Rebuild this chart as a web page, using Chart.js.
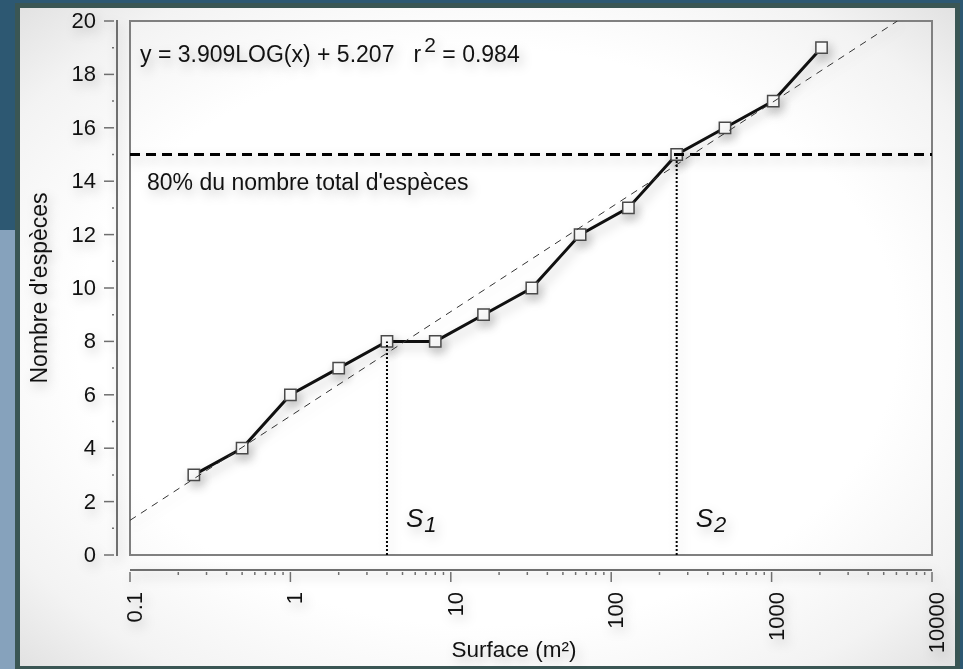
<!DOCTYPE html>
<html>
<head>
<meta charset="utf-8">
<script src="https://cdn.jsdelivr.net/npm/chart.js@4.4.1/dist/chart.umd.min.js"></script>
<style>
  html, body { margin: 0; padding: 0; }
  body { width: 963px; height: 669px; overflow: hidden; position: relative; background: #2d5872; }
  .bande { position: absolute; left: 0; top: 230px; width: 16px; height: 439px; background: #86a2bc; }
  .cadre {
    position: absolute; left: 15px; top: 3px; width: 945px; height: 666px; box-sizing: border-box;
    border: 5px solid #3a5654; border-bottom-width: 3px;
    background: radial-gradient(ellipse at 50% 50%, #ffffff 62%, #f3f3f3 85%, #e2e2e2 100%);
  }
  #courbe { position: absolute; left: 0; top: 0; }
</style>
</head>
<body>
<div class="bande"></div>
<div class="cadre"></div>
<canvas id="courbe" width="963" height="669"></canvas>
<script>
// relevés : surface échantillonnée (m²) et nombre d'espèces
const surfaces = [0.25, 0.5, 1, 2, 4, 8, 16, 32, 64, 128, 256, 512, 1024, 2048]
const especes = [3, 4, 6, 7, 8, 8, 9, 10, 12, 13, 15, 16, 17, 19]

// ajustement y = a LOG(x) + b
const pente = 3.909
const origine = 5.207
const r2 = 0.984

const seuil80 = 15
const s1 = { x: 4, y: 8 }
const s2 = { x: 256, y: 15 }

const xTicks = [0.1, 1, 10, 100, 1000, 10000]
const xTickLabels = ['0.1', '1', '10', '100', '1000', '10000']
const yTicks = [0, 2, 4, 6, 8, 10, 12, 14, 16, 18, 20]

const xMin = 0.1
const xMax = 10000
const yMax = 20

const FONT = '"Liberation Sans", Arial, Helvetica, sans-serif'

// droite d'ajustement, coupée au haut du graphe
const ajustement = [
  { x: xMin, y: pente * Math.log10(xMin) + origine },
  { x: Math.pow(10, (yMax - origine) / pente), y: yMax }
]

function setShadow (ctx) {
  ctx.shadowColor = 'rgba(0,0,0,0.26)'
  ctx.shadowBlur = 12
  ctx.shadowOffsetX = 3
  ctx.shadowOffsetY = 5
}

const axesPlugin = {
  id: 'axesMaison',
  beforeDatasetsDraw (chart) {
    const { ctx, chartArea: a } = chart
    ctx.save()
    ctx.strokeStyle = '#808080'
    ctx.lineWidth = 2
    ctx.strokeRect(a.left, a.top, a.right - a.left, a.bottom - a.top)
    ctx.restore()
    ctx.save()
    setShadow(ctx)
  },
  afterDatasetsDraw (chart) {
    chart.ctx.restore()
  },
  afterDraw (chart) {
    const { ctx, chartArea: a } = chart
    const xs = chart.scales.x
    const ys = chart.scales.y
    ctx.save()
    setShadow(ctx)

    // axe des ordonnées, décalé à gauche du cadre
    const yAxeX = a.left - 13
    ctx.strokeStyle = '#6f6f6f'
    ctx.lineWidth = 2
    ctx.beginPath()
    ctx.moveTo(yAxeX, ys.getPixelForValue(yMax) - 1)
    ctx.lineTo(yAxeX, ys.getPixelForValue(0) + 1)
    ctx.stroke()
    ctx.lineWidth = 1.5
    ctx.fillStyle = '#111'
    ctx.font = '22px ' + FONT
    ctx.textAlign = 'right'
    ctx.textBaseline = 'middle'
    yTicks.forEach(v => {
      const py = ys.getPixelForValue(v)
      ctx.beginPath()
      ctx.moveTo(yAxeX - 13, py)
      ctx.lineTo(yAxeX - 3, py)
      ctx.stroke()
      ctx.fillText(String(v), yAxeX - 21, py + 1)
      if (v < yMax) {
        const pm = ys.getPixelForValue(v + 1)
        ctx.beginPath()
        ctx.moveTo(yAxeX - 5, pm)
        ctx.lineTo(yAxeX - 3, pm)
        ctx.stroke()
      }
    })

    // axe des abscisses, décalé sous le cadre
    const xAxeY = a.bottom + 15
    ctx.lineWidth = 2
    ctx.beginPath()
    ctx.moveTo(xs.getPixelForValue(xMin), xAxeY)
    ctx.lineTo(xs.getPixelForValue(xMax), xAxeY)
    ctx.stroke()
    ctx.lineWidth = 1.5
    xTicks.forEach((v, i) => {
      const px = xs.getPixelForValue(v)
      ctx.beginPath()
      ctx.moveTo(px, xAxeY + 2)
      ctx.lineTo(px, xAxeY + 12)
      ctx.stroke()
      if (v < xMax) {
        for (let k = 2; k <= 9; k++) {
          const pm = xs.getPixelForValue(v * k)
          ctx.beginPath()
          ctx.moveTo(pm, xAxeY + 2)
          ctx.lineTo(pm, xAxeY + 5)
          ctx.stroke()
        }
      }
      ctx.save()
      ctx.translate(px + 6, xAxeY + 22)
      ctx.rotate(-Math.PI / 2)
      ctx.textAlign = 'right'
      ctx.textBaseline = 'middle'
      ctx.fillText(xTickLabels[i], 0, 0)
      ctx.restore()
    })

    // titres des axes
    ctx.textAlign = 'center'
    ctx.textBaseline = 'middle'
    ctx.font = '22.5px ' + FONT
    ctx.fillText('Surface (m²)', 514, 651)
    ctx.save()
    ctx.translate(41, 288)
    ctx.rotate(-Math.PI / 2)
    ctx.font = '23px ' + FONT
    ctx.fillText("Nombre d'espèces", 0, 0)
    ctx.restore()

    // équation de l'ajustement
    ctx.textAlign = 'left'
    ctx.textBaseline = 'alphabetic'
    ctx.font = '23px ' + FONT
    let tx = a.left + 10
    const base = a.top + 41
    const eq = 'y = ' + pente.toFixed(3) + 'LOG(x) + ' + origine.toFixed(3) + '   r'
    ctx.fillText(eq, tx, base)
    tx += ctx.measureText(eq).width + 3
    ctx.font = '21px ' + FONT
    ctx.fillText('2', tx, base - 10)
    tx += ctx.measureText('2').width
    ctx.font = '23px ' + FONT
    ctx.fillText(' = ' + r2.toFixed(3), tx, base)

    // légende du seuil
    ctx.fillText("80% du nombre total d'espèces", a.left + 17, ys.getPixelForValue(seuil80) + 35)

    // repères S1 et S2
    const repere = (pt, indice) => {
      const px = xs.getPixelForValue(pt.x) + 19
      const py = a.bottom - 28
      ctx.font = 'italic 26px ' + FONT
      ctx.fillText('S', px, py)
      const w = ctx.measureText('S').width
      ctx.font = 'italic 22px ' + FONT
      ctx.fillText(indice, px + w + 1, py + 5)
    }
    repere(s1, '1')
    repere(s2, '2')

    ctx.restore()
  }
}

new Chart(document.getElementById('courbe'), {
  type: 'scatter',
  data: {
    datasets: [
      {
        label: 'ajustement',
        data: ajustement,
        showLine: true,
        borderColor: '#333',
        borderWidth: 1,
        borderDash: [7, 6],
        pointRadius: 0
      },
      {
        label: 'seuil 80 %',
        data: [{ x: xMin, y: seuil80 }, { x: xMax, y: seuil80 }],
        showLine: true,
        borderColor: '#000',
        borderWidth: 3,
        borderDash: [10, 6],
        pointRadius: 0
      },
      {
        label: 'S1',
        data: [{ x: s1.x, y: 0 }, { x: s1.x, y: s1.y }],
        showLine: true,
        borderColor: '#000',
        borderWidth: 2,
        borderDash: [2, 2],
        pointRadius: 0
      },
      {
        label: 'S2',
        data: [{ x: s2.x, y: 0 }, { x: s2.x, y: s2.y }],
        showLine: true,
        borderColor: '#000',
        borderWidth: 2,
        borderDash: [2, 2],
        pointRadius: 0
      },
      {
        label: "Nombre d'espèces",
        data: surfaces.map((s, i) => ({ x: s, y: especes[i] })),
        showLine: true,
        borderColor: '#111',
        borderWidth: 3,
        pointStyle: 'rect',
        pointRadius: 8,
        pointBackgroundColor: '#fff',
        pointBorderColor: '#4a4a4a',
        pointBorderWidth: 1.5
      }
    ]
  },
  options: {
    responsive: false,
    animation: false,
    layout: { padding: { left: 130, top: 21, right: 31, bottom: 114 } },
    plugins: { legend: { display: false }, tooltip: { enabled: false } },
    scales: {
      x: { type: 'logarithmic', min: xMin, max: xMax, display: false },
      y: { type: 'linear', min: 0, max: yMax, display: false }
    }
  },
  plugins: [axesPlugin]
})
</script>
</body>
</html>
